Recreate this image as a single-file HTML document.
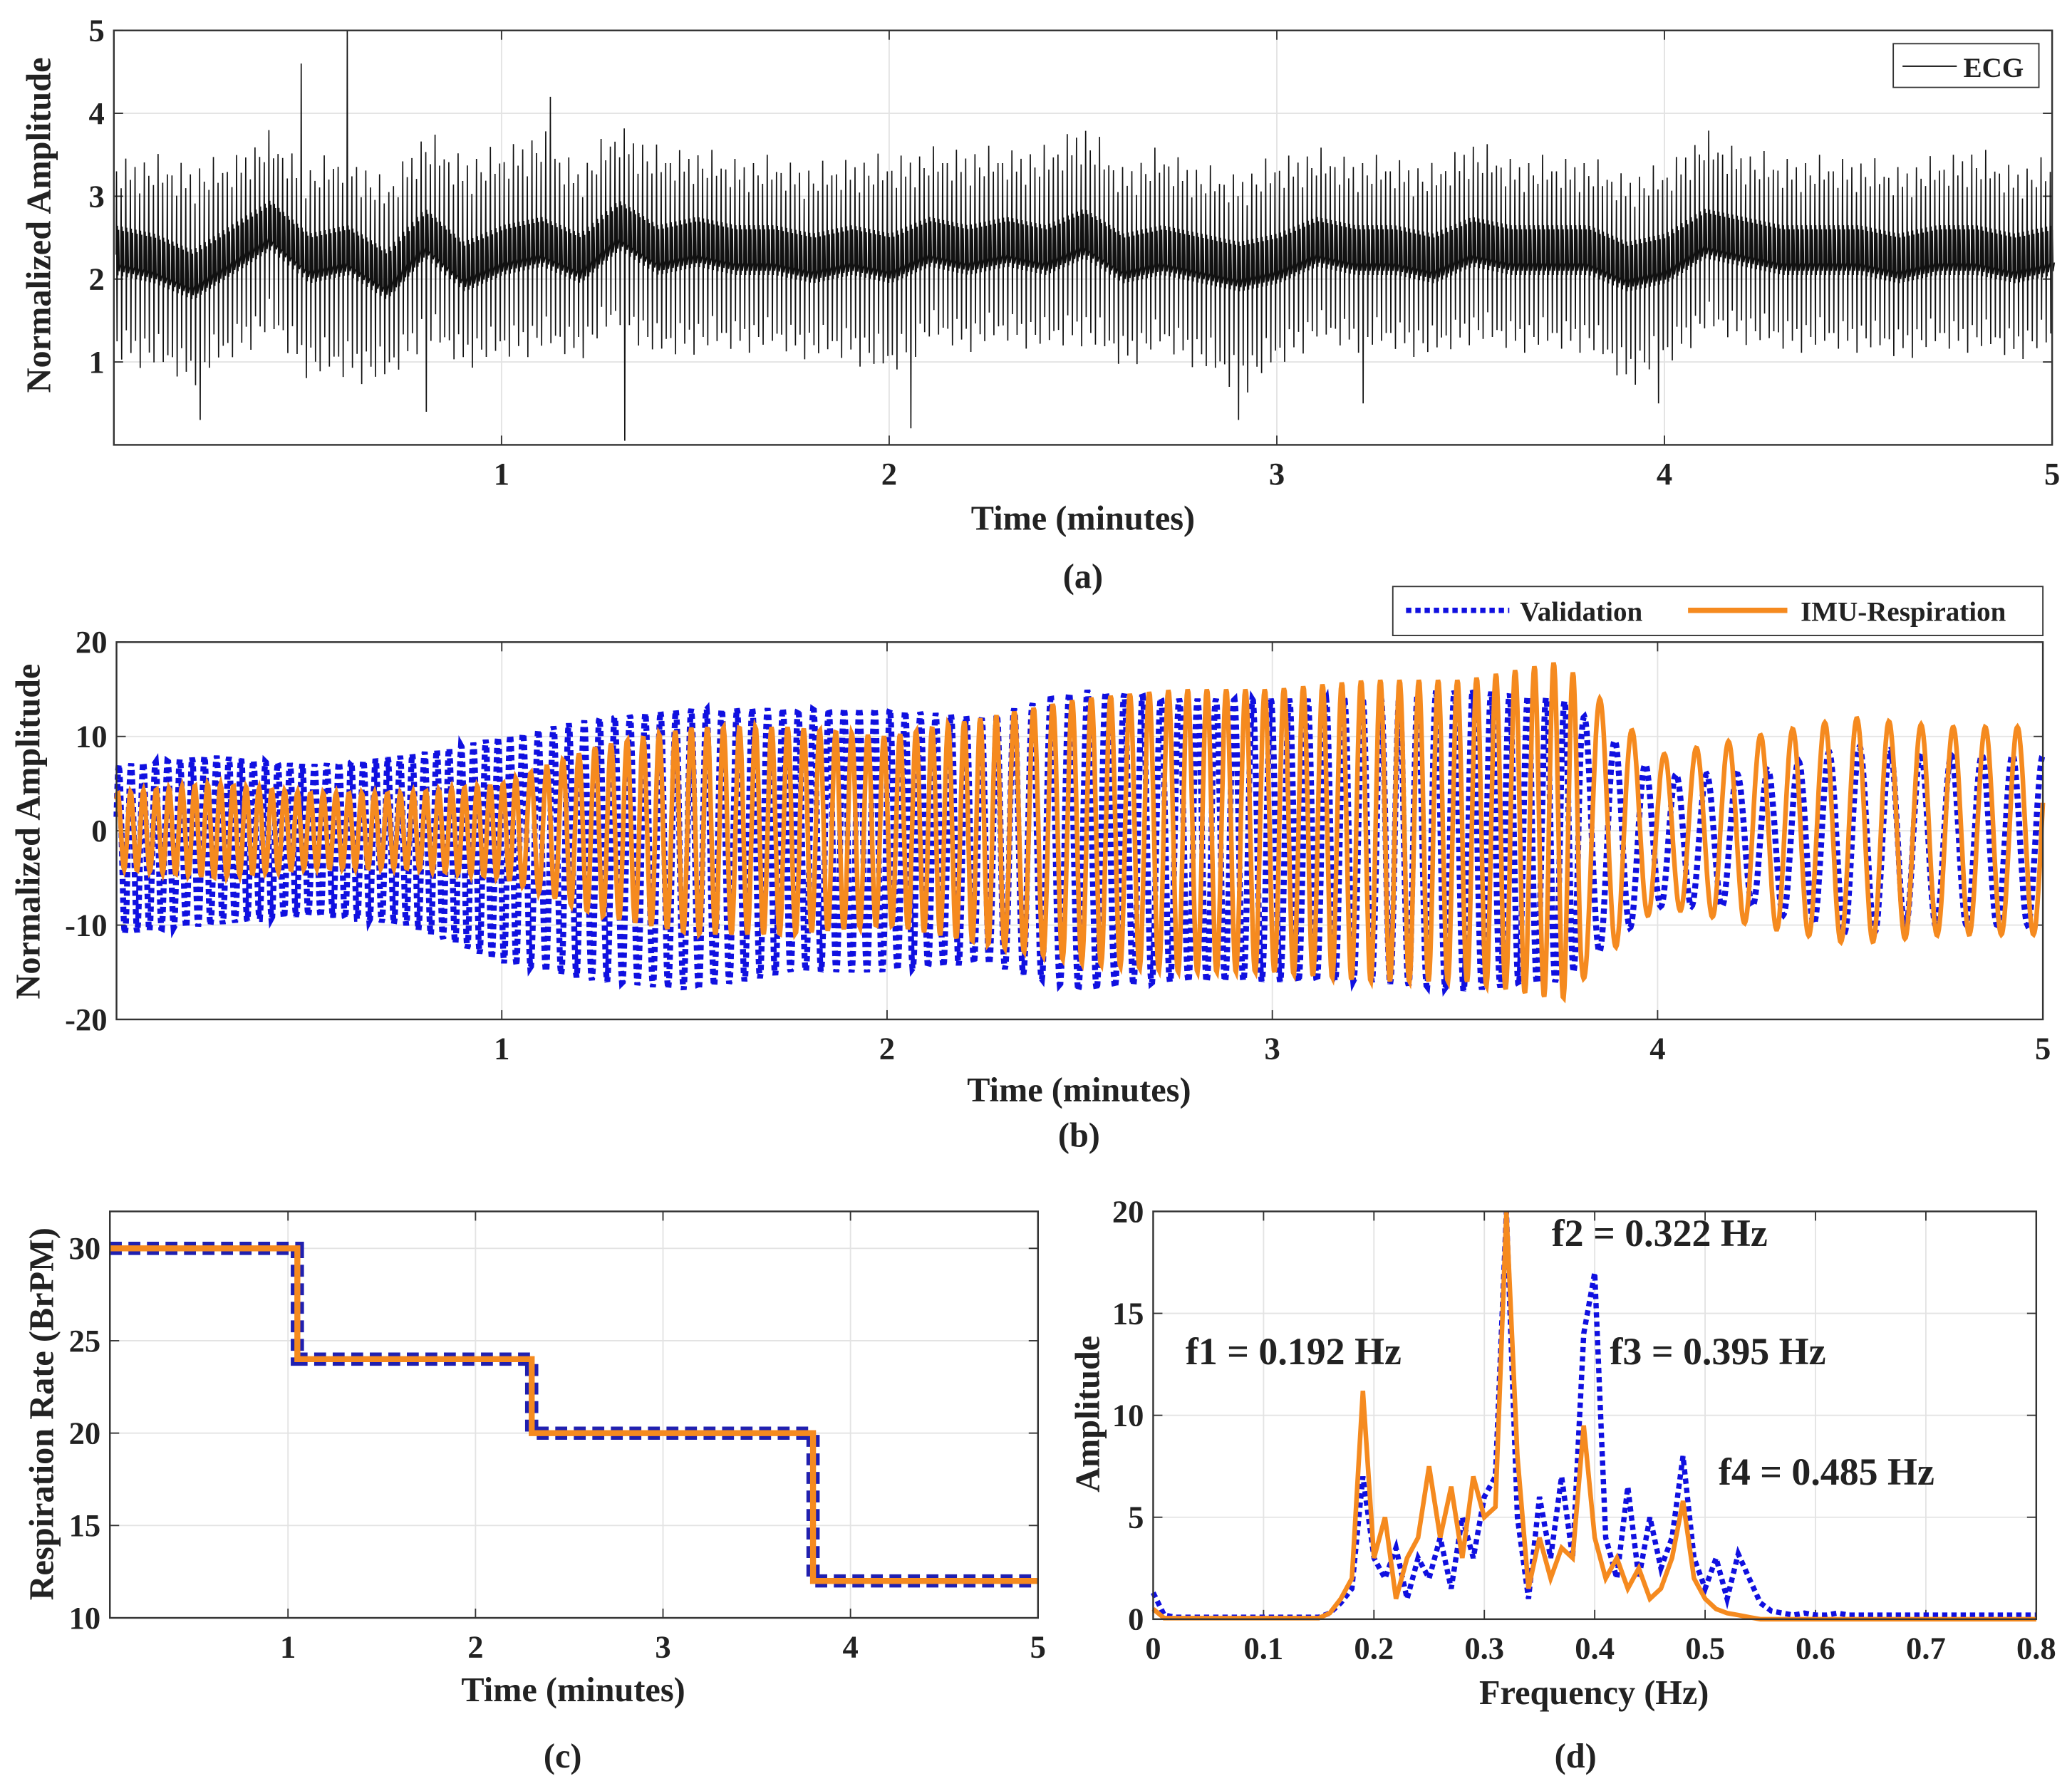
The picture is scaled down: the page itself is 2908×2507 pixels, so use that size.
<!DOCTYPE html>
<html><head><meta charset="utf-8"><style>
html,body{margin:0;padding:0;background:#fff;}
svg{display:block;}
text{font-family:"Liberation Serif",serif;font-weight:bold;fill:#222;}
</style></head><body>
<svg id="fig" width="2908" height="2507" viewBox="0 0 1565 1349" preserveAspectRatio="none" xmlns="http://www.w3.org/2000/svg">
<g id="pa"></g>
<g id="pb"></g>
<g id="pc"></g>
<g id="pd"></g>
</svg>
<script>
// ---- Panel (a) ECG data ----
const ecgBaseline = [2.3,2.2,2.0,2.3,2.6,2.2,2.3,2.0,2.5,2.1,2.3,2.4,2.2,2.6,2.3,2.4,2.3,2.3,2.2,2.3,2.2,2.4,2.3,2.4,2.3,2.5,2.2,2.3,2.2,2.1,2.2,2.4,2.3,2.3,2.2,2.4,2.3,2.3,2.3,2.1,2.2,2.5,2.4,2.3,2.3,2.3,2.2,2.3,2.3,2.2,2.3];
const ecgPeakOffset = [1.0,1.1,1.2,1.0,1.0,1.0,1.1,1.0,1.1,1.2,1.1,1.2,1.0,1.1,1.1,1.0,1.0,1.0,1.0,1.0,1.1,1.0,1.1,1.0,1.1,1.2,1.0,1.1,1.0,1.0,1.1,1.0,1.0,1.0,1.0,1.1,1.0,1.0,1.0,1.0,1.0,1.1,1.0,1.0,1.0,1.0,1.0,1.0,1.1,1.0,1.0];
const ecgTroughOffset = [1.1,1.1,1.1,1.1,1.1,1.2,1.3,1.1,1.1,1.0,1.1,1.1,1.0,1.0,1.1,1.1,1.0,1.0,1.0,1.1,1.2,1.0,1.0,1.0,1.0,1.1,1.1,1.0,1.1,1.3,1.1,1.0,1.0,1.0,1.0,1.0,1.0,1.0,1.0,1.2,1.1,1.0,1.0,1.0,1.0,1.0,1.0,1.0,1.0,1.0,1.0];
const beatVariation = [1.0,0.8,1.15,0.9,1.05,0.75,1.1,0.95,0.85,1.2,0.9,1.0];
const spikeTimes = [0.22,0.48,0.6,0.8,1.12,1.32,2.05,2.9,3.22,3.98,4.5];
const spikeValues = [0.3,4.6,5.0,0.4,4.2,0.05,0.2,0.3,0.5,0.5,0.6];
const ecgBeatsPerMinute = 84;
const aYTicks = [1,2,3,4,5];
const aXTicks = [1,2,3,4,5];

// ---- Panel (b) ----
const envTimes = [0,0.25,0.5,0.75,1,1.25,1.5,1.75,2,2.25,2.5,2.75,3,3.25,3.5,3.75,4,4.25,4.5,4.75,5];
const validationAmp = [9,9,8,9,12,14,15,14,14,13,16,15,15,15,16,15,7,7,10,9,9];
const validationOffset = [-2,-1,-1,-1,-2,-2,-2,-1,-1,-1,-1,-1,-1,-1,-1,-1,-1,-1,-1,-1,-1];
const imuAmp = [4,5,4,4,5,9,11,11,10,12,14,15,15,16,16,18,8,10,12,11,11];
const bYTicks = [-20,-10,0,10,20];
const bXTicks = [1,2,3,4,5];

// ---- Panel (c) ----
const stepTimes = [0.05,1.05,2.3,3.8,5];
const stepRates = [30,24,20,12];
const cYTicks = [10,15,20,25,30];
const cXTicks = [1,2,3,4,5];

// ---- Panel (d) ----
const freqs = [];
for (let i=0;i<=80;i++) freqs.push(i/100);
const validationSpec = [1.3,0.2,0.1,0.1,0.1,0.1,0.1,0.1,0.1,0.1,0.1,0.1,0.1,0.1,0.1,0.1,0.3,0.8,1.5,7,3,2,3.5,1,3,2,4,1.5,5,3,6,7,20,5,1,6,3,7,3,14,17,4,2,6.5,2,5,2.5,4,8,3,1.5,3,1,3.2,2,0.8,0.4,0.3,0.2,0.3,0.2,0.2,0.3,0.2,0.2,0.2,0.2,0.2,0.2,0.2,0.2,0.2,0.2,0.2,0.2,0.2,0.2,0.2,0.2,0.2,0.2];
const imuSpec = [0.5,0.05,0.05,0.05,0.05,0.05,0.05,0.05,0.05,0.05,0.05,0.05,0.05,0.05,0.05,0.05,0.3,1,2,11.2,3,5,1,3,4,7.5,4,6.5,3,7,5,5.5,20,8,1.5,4,2,3.5,3,9.5,4,2,3,1.5,2.5,1,1.5,3,5.8,2,1,0.5,0.3,0.2,0.1,0,0,0,0,0,0,0,0,0,0,0,0,0,0,0,0,0,0,0,0,0,0,0,0,0,0];
const dYTicks = [0,5,10,15,20];
const dXTicks = [0,0.1,0.2,0.3,0.4,0.5,0.6,0.7,0.8];
const peakLabels = ["f1 = 0.192 Hz","f2 = 0.322 Hz","f3 = 0.395 Hz","f4 = 0.485 Hz"];
const peakLabelX = [977,1172,1216,1298];
const peakLabelAmp = [12.5,18.3,12.5,6.6];

const NS="http://www.w3.org/2000/svg";
function mk(parent,tag,attrs,txt){const e=document.createElementNS(NS,tag);for(const k in attrs)e.setAttribute(k,attrs[k]);if(txt!==undefined)e.textContent=txt;parent.appendChild(e);return e;}
function lin(d0,d1,r0,r1){return v=>r0+(v-d0)/(d1-d0)*(r1-r0);}
function interp(xs,ys,x){if(x<=xs[0])return ys[0];for(let i=1;i<xs.length;i++){if(x<=xs[i]){const t=(x-xs[i-1])/(xs[i]-xs[i-1]);return ys[i-1]+t*(ys[i]-ys[i-1]);}}return ys[ys.length-1];}

function axes(g,L,R,T,B,sx,sy,xt,yt,xfmt,yfmt,fs){
  mk(g,'rect',{x:L,y:T,width:R-L,height:B-T,fill:'#fff',stroke:'none'});
  const gr=mk(g,'g',{});
  
  
  xt.forEach(v=>{const x=sx(v);mk(gr,'line',{x1:x,x2:x,y1:T,y2:B,stroke:'#e3e3e3','stroke-width':1});});
  yt.forEach(v=>{const y=sy(v);mk(gr,'line',{x1:L,x2:R,y1:y,y2:y,stroke:'#e3e3e3','stroke-width':1});});
  const tx=mk(g,'g',{});
  
  
  xt.forEach(v=>{const x=sx(v);mk(g,'line',{x1:x,x2:x,y1:B,y2:B-7,stroke:'#333','stroke-width':1});mk(g,'line',{x1:x,x2:x,y1:T,y2:T+7,stroke:'#333','stroke-width':1});mk(tx,'text',{x:x,y:B+30,'text-anchor':'middle','font-size':fs},xfmt(v));});
  const ty=mk(g,'g',{});
  
  
  yt.forEach(v=>{const y=sy(v);mk(g,'line',{x1:L,x2:L+7,y1:y,y2:y,stroke:'#333','stroke-width':1});mk(g,'line',{x1:R,x2:R-7,y1:y,y2:y,stroke:'#333','stroke-width':1});mk(ty,'text',{x:L-7,y:y+8,'text-anchor':'end','font-size':fs},yfmt(v));});
}
function frame(g,L,R,T,B){mk(g,'rect',{x:L,y:T,width:R-L,height:B-T,fill:'none',stroke:'#333','stroke-width':1.3});}
function label(g,x,y,txt,fs,name,rot){const a={x:x,y:y,'text-anchor':'middle','font-size':fs};if(rot)a.transform=`rotate(-90 ${x} ${y})`;const t=mk(g,'text',a,txt);return t;}

// ===== Panel A =====
(function(){
  const g=document.getElementById('pa');
  const L=86,R=1550,T=23,B=336;
  const sx=lin(0,5,L,R), sy=lin(0,5,B,T);
  axes(g,L,R,T,B,sx,sy,aXTicks,aYTicks,v=>v,v=>v,24);
  const bt=ecgBaseline.map((_,i)=>i*0.1);
  let d='';
  const n=Math.round(ecgBeatsPerMinute*5);
  const half=0.5/ecgBeatsPerMinute;
  for(let i=0;i<n;i++){
    const t=(i+0.5)/ecgBeatsPerMinute;
    const b=interp(bt,ecgBaseline,t), pk=interp(bt,ecgPeakOffset,t), tr=interp(bt,ecgTroughOffset,t);
    const f=beatVariation[i%beatVariation.length];
    let hi=b+pk*f, lo=b-tr*(2-f)*0.95;
    spikeTimes.forEach((st,k)=>{if(Math.abs(st-t)<half){if(spikeValues[k]>b)hi=spikeValues[k];else lo=spikeValues[k];}});
    const x=sx(t), x2=sx(t+2*half);
    const bn=interp(bt,ecgBaseline,t+2*half);
    d+=(i?'L':'M')+x.toFixed(1)+' '+sy(b).toFixed(1)+'L'+(x+0.3).toFixed(1)+' '+sy(hi).toFixed(1)+'L'+(x+0.7).toFixed(1)+' '+sy(lo).toFixed(1)+'L'+(x+1.0).toFixed(1)+' '+sy(b+0.35).toFixed(1)+'L'+(x+1.4).toFixed(1)+' '+sy(b-0.25).toFixed(1)+'L'+(x+1.9).toFixed(1)+' '+sy(b+0.3).toFixed(1)+'L'+(x+2.4).toFixed(1)+' '+sy(b-0.2).toFixed(1)+'L'+x2.toFixed(1)+' '+sy(bn-0.1).toFixed(1);
  }
  const p=mk(g,'path',{d:d,fill:'none',stroke:'#111','stroke-width':0.9});
  
  
  frame(g,L,R,T,B);
  const lg=mk(g,'g',{});
  
  
  mk(lg,'rect',{x:1430,y:33,width:110,height:33,fill:'#fff',stroke:'#333','stroke-width':1});
  mk(lg,'line',{x1:1437,x2:1478,y1:50,y2:50,stroke:'#111','stroke-width':1});
  mk(lg,'text',{x:1483,y:58,'font-size':21},'ECG');
  label(g,818,400,'Time (minutes)',26,'x-axis-title');
  label(g,38,170,'Normalized Amplitude',26,'y-axis-title',true);
  label(g,818,444,'(a)',26,'panel-label-a');
})();

// ===== Panel B =====
(function(){
  const g=document.getElementById('pb');
  const L=88,R=1543,T=485,B=770;
  const sx=lin(0,5,L,R), sy=lin(-20,20,B,T);
  axes(g,L,R,T,B,sx,sy,bXTicks,bYTicks,v=>v,v=>v,24);
  const rateAt=t=>{for(let i=0;i<stepRates.length;i++){if(t<stepTimes[i+1])return stepRates[i];}return stepRates[stepRates.length-1];};
  let phB=0,phO=0.6,dB='',dO='';
  const dt=0.002;
  for(let t=0;t<=5.0001;t+=dt){
    const r=rateAt(t);
    phB+=2*Math.PI*r*1.05*dt; phO+=2*Math.PI*r*dt;
    const vb=interp(envTimes,validationOffset,t)+interp(envTimes,validationAmp,t)*Math.sin(phB);
    const vo=interp(envTimes,imuAmp,t)*Math.sin(phO);
    const x=sx(t).toFixed(1);
    dB+=(dB?'L':'M')+x+' '+sy(Math.max(-20,Math.min(20,vb))).toFixed(1);
    dO+=(dO?'L':'M')+x+' '+sy(Math.max(-20,Math.min(20,vo))).toFixed(1);
  }
  const pB=mk(g,'path',{d:dB,fill:'none',stroke:'#1010e0','stroke-width':4.5,'stroke-dasharray':'4 3'});
  
  
  const pO=mk(g,'path',{d:dO,fill:'none',stroke:'#f58a1f','stroke-width':3.5});
  
  
  frame(g,L,R,T,B);
  const lg=mk(g,'g',{});
  
  
  mk(lg,'rect',{x:1052,y:443,width:491,height:37,fill:'#fff',stroke:'#333','stroke-width':1});
  mk(lg,'line',{x1:1062,x2:1140,y1:461,y2:461,stroke:'#1010e0','stroke-width':4,'stroke-dasharray':'4 3'});
  mk(lg,'text',{x:1148,y:469,'font-size':21},'Validation');
  mk(lg,'line',{x1:1275,x2:1350,y1:461,y2:461,stroke:'#f58a1f','stroke-width':4});
  mk(lg,'text',{x:1360,y:469,'font-size':21},'IMU-Respiration');
  label(g,815,832,'Time (minutes)',26,'x-axis-title');
  label(g,30,628,'Normalized Amplitude',26,'y-axis-title',true);
  label(g,815,866,'(b)',26,'panel-label-b');
})();

// ===== Panel C =====
(function(){
  const g=document.getElementById('pc');
  const L=83,R=784,T=915,B=1222;
  const sx=lin(0.05,5,L,R), sy=lin(10,32,B,T);
  axes(g,L,R,T,B,sx,sy,cXTicks,cYTicks,v=>v,v=>v,24);
  let d='';
  stepRates.forEach((r,i)=>{d+=(i?'L':'M')+sx(stepTimes[i]).toFixed(1)+' '+sy(r).toFixed(1)+'L'+sx(stepTimes[i+1]).toFixed(1)+' '+sy(r).toFixed(1);});
  const pB=mk(g,'path',{d:d,fill:'none',stroke:'#2020b0','stroke-width':10,'stroke-dasharray':'9 5'});
  
  
  const pO=mk(g,'path',{d:d,fill:'none',stroke:'#f58a1f','stroke-width':4.5});
  
  
  frame(g,L,R,T,B);
  label(g,433,1285,'Time (minutes)',26,'x-axis-title');
  label(g,40,1068,'Respiration Rate (BrPM)',26,'y-axis-title',true);
  label(g,425,1335,'(c)',26,'panel-label-c');
})();

// ===== Panel D =====
(function(){
  const g=document.getElementById('pd');
  const L=871,R=1538,T=915,B=1223;
  const sx=lin(0,0.8,L,R), sy=lin(0,20,B,T);
  axes(g,L,R,T,B,sx,sy,dXTicks,dYTicks,v=>v,v=>v,24);
  const path=arr=>arr.map((v,i)=>(i?'L':'M')+sx(freqs[i]).toFixed(1)+' '+sy(v).toFixed(1)).join('');
  const pB=mk(g,'path',{d:path(validationSpec),fill:'none',stroke:'#1010e0','stroke-width':4,'stroke-dasharray':'4 3'});
  
  
  const pO=mk(g,'path',{d:path(imuSpec),fill:'none',stroke:'#f58a1f','stroke-width':3.5});
  
  
  frame(g,L,R,T,B);
  peakLabels.forEach((s,i)=>{
    const t=mk(g,'text',{x:peakLabelX[i],y:sy(peakLabelAmp[i]),'font-size':29,'text-anchor':i===0?'middle':'start'},s);
    
    
  });
  label(g,1204,1287,'Frequency (Hz)',26,'x-axis-title');
  label(g,830,1068,'Amplitude',26,'y-axis-title',true);
  label(g,1190,1335,'(d)',26,'panel-label-d');
})();
</script>
</body></html>
